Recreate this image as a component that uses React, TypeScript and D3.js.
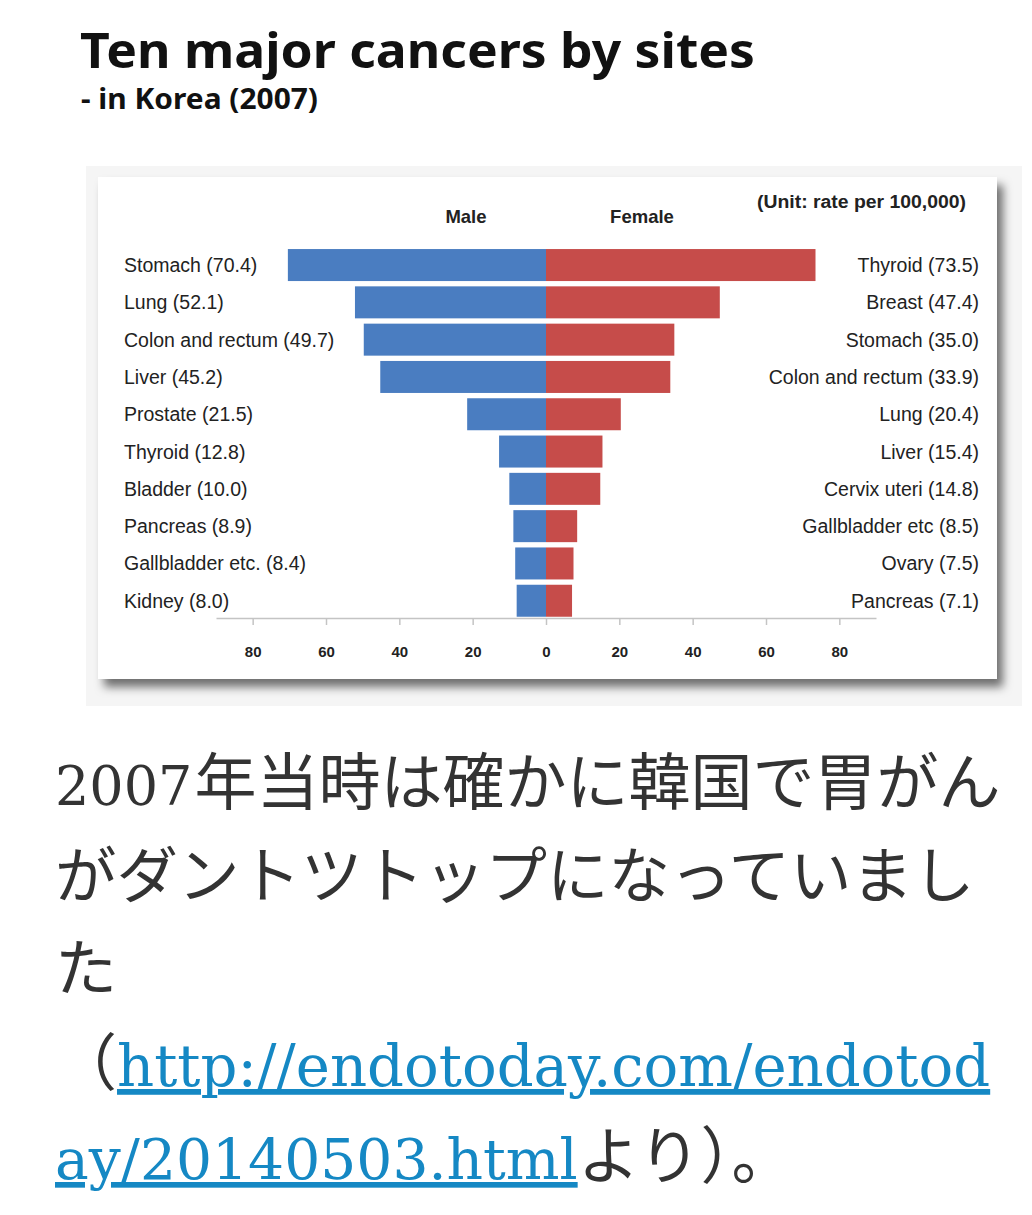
import { useEffect, useRef } from "react";
import * as d3 from "d3";

const maleSites = [
  "Stomach",
  "Lung",
  "Colon and rectum",
  "Liver",
  "Prostate",
  "Thyroid",
  "Bladder",
  "Pancreas",
  "Gallbladder etc.",
  "Kidney",
];
const maleRates = [70.4, 52.1, 49.7, 45.2, 21.5, 12.8, 10.0, 8.9, 8.4, 8.0];

const femaleSites = [
  "Thyroid",
  "Breast",
  "Stomach",
  "Colon and rectum",
  "Lung",
  "Liver",
  "Cervix uteri",
  "Gallbladder etc",
  "Ovary",
  "Pancreas",
];
const femaleRates = [73.5, 47.4, 35.0, 33.9, 20.4, 15.4, 14.8, 8.5, 7.5, 7.1];

const xTicks = [-80, -60, -40, -20, 0, 20, 40, 60, 80];

const BLUE = "#4a7dc1";
const RED = "#c64c4a";
const LINK = "#1588c4";
const SANS = "'Liberation Sans', Arial, sans-serif";
const CJK = "'Noto Sans CJK JP', sans-serif";
const SERIF = "'DejaVu Serif', serif";

export default function App() {
  const chartRef = useRef<SVGGElement>(null);

  useEffect(() => {
    const g = d3.select(chartRef.current);
    g.selectAll("*").remove();

    const x = d3.scaleLinear().domain([-90, 90]).range([216, 876]);
    const rows = d3.range(maleSites.length);
    const y = d3
      .scaleBand<number>()
      .domain(rows)
      .range([246.4, 619.4])
      .paddingInner(0.142)
      .paddingOuter(0.071);

    // male bars grow to the left of zero
    g.selectAll(".male")
      .data(rows)
      .enter()
      .append("rect")
      .attr("class", "male")
      .attr("x", (i) => x(-maleRates[i]))
      .attr("y", (i) => y(i)!)
      .attr("width", (i) => x(0) - x(-maleRates[i]))
      .attr("height", y.bandwidth())
      .attr("fill", BLUE);

    g.selectAll(".female")
      .data(rows)
      .enter()
      .append("rect")
      .attr("class", "female")
      .attr("x", x(0))
      .attr("y", (i) => y(i)!)
      .attr("width", (i) => x(femaleRates[i]) - x(0))
      .attr("height", y.bandwidth())
      .attr("fill", RED);

    g.selectAll(".mlabel")
      .data(rows)
      .enter()
      .append("text")
      .attr("x", 124)
      .attr("y", (i) => y(i)! + y.bandwidth() / 2 + 7)
      .style("font-family", SANS)
      .style("font-size", "19.5px")
      .attr("fill", "#222")
      .text((i) => `${maleSites[i]} (${maleRates[i].toFixed(1)})`);

    g.selectAll(".flabel")
      .data(rows)
      .enter()
      .append("text")
      .attr("x", 979)
      .attr("y", (i) => y(i)! + y.bandwidth() / 2 + 7)
      .attr("text-anchor", "end")
      .style("font-family", SANS)
      .style("font-size", "19.5px")
      .attr("fill", "#222")
      .text((i) => `${femaleSites[i]} (${femaleRates[i].toFixed(1)})`);

    const axis = g
      .append("g")
      .attr("transform", "translate(0,618)")
      .call(
        d3
          .axisBottom(x)
          .tickValues(xTicks)
          .tickSize(7)
          .tickPadding(21)
          .tickSizeOuter(0)
          .tickFormat((d) => String(Math.abs(+d))),
      );
    axis.select(".domain").attr("stroke", "#c4c4c4").attr("stroke-width", 1.5);
    axis.selectAll(".tick line").attr("stroke", "#c4c4c4").attr("stroke-width", 1.5);
    axis
      .selectAll(".tick text")
      .attr("fill", "#222")
      .style("font-family", SANS)
      .style("font-size", "15px")
      .style("font-weight", "bold");
  }, []);

  return (
    <div style={{ position: "absolute", left: 0, top: 0 }}>
      <svg width={1032} height={1215} style={{ display: "block" }}>
        <defs>
          <filter id="shadow" x="-5%" y="-5%" width="115%" height="120%">
            <feDropShadow dx={6} dy={8} stdDeviation={5} floodColor="#000" floodOpacity={0.55} />
          </filter>
        </defs>
        <rect width={1032} height={1215} fill="#fff" />

        <text
          x={80}
          y={68}
          style={{ fontFamily: "'Noto Sans', sans-serif", fontWeight: 700, fontSize: 49 }}
          fill="#111"
          textLength={675}
          lengthAdjust="spacingAndGlyphs"
        >
          Ten major cancers by sites
        </text>
        <text
          x={81}
          y={109}
          style={{ fontFamily: "'Noto Sans', sans-serif", fontWeight: 700, fontSize: 28 }}
          fill="#111"
          textLength={237}
          lengthAdjust="spacingAndGlyphs"
        >
          - in Korea (2007)
        </text>

        <rect x={86} y={166} width={936} height={540} fill="#f5f5f5" />
        <rect x={98} y={177} width={899} height={502} fill="#fff" filter="url(#shadow)" />

        <text
          x={466}
          y={223}
          textAnchor="middle"
          style={{ fontFamily: SANS, fontWeight: 700, fontSize: 18.5 }}
          fill="#222"
        >
          Male
        </text>
        <text
          x={642}
          y={223}
          textAnchor="middle"
          style={{ fontFamily: SANS, fontWeight: 700, fontSize: 18.5 }}
          fill="#222"
        >
          Female
        </text>
        <text
          x={757}
          y={208}
          style={{ fontFamily: SANS, fontWeight: 700, fontSize: 17.5 }}
          fill="#222"
          textLength={209}
          lengthAdjust="spacingAndGlyphs"
        >
          (Unit: rate per 100,000)
        </text>

        <g ref={chartRef} />

        <g fill="#333" style={{ fontFamily: CJK, fontSize: 62 }}>
          <text x={55} y={805}>
            <tspan style={{ fontFamily: SERIF, fontSize: 54 }}>2007</tspan>
            <tspan dx={2}>年当時は確かに韓国で胃がん</tspan>
          </text>
          <text x={55} y={898} style={{ fontSize: 61.5 }}>
            がダントツトップになっていまし
          </text>
          <text x={55} y={991}>
            た
          </text>
          <text x={55} y={1086}>
            （
            <tspan
              style={{ fontFamily: SERIF, fontSize: 57.7 }}
              fill={LINK}
              textDecoration="underline"
            >
              http://endotoday.com/endotod
            </tspan>
          </text>
          <text x={55} y={1179}>
            <tspan
              style={{ fontFamily: SERIF, fontSize: 56.7 }}
              fill={LINK}
              textDecoration="underline"
            >
              ay/20140503.html
            </tspan>
            より）。
          </text>
        </g>
      </svg>
    </div>
  );
}
